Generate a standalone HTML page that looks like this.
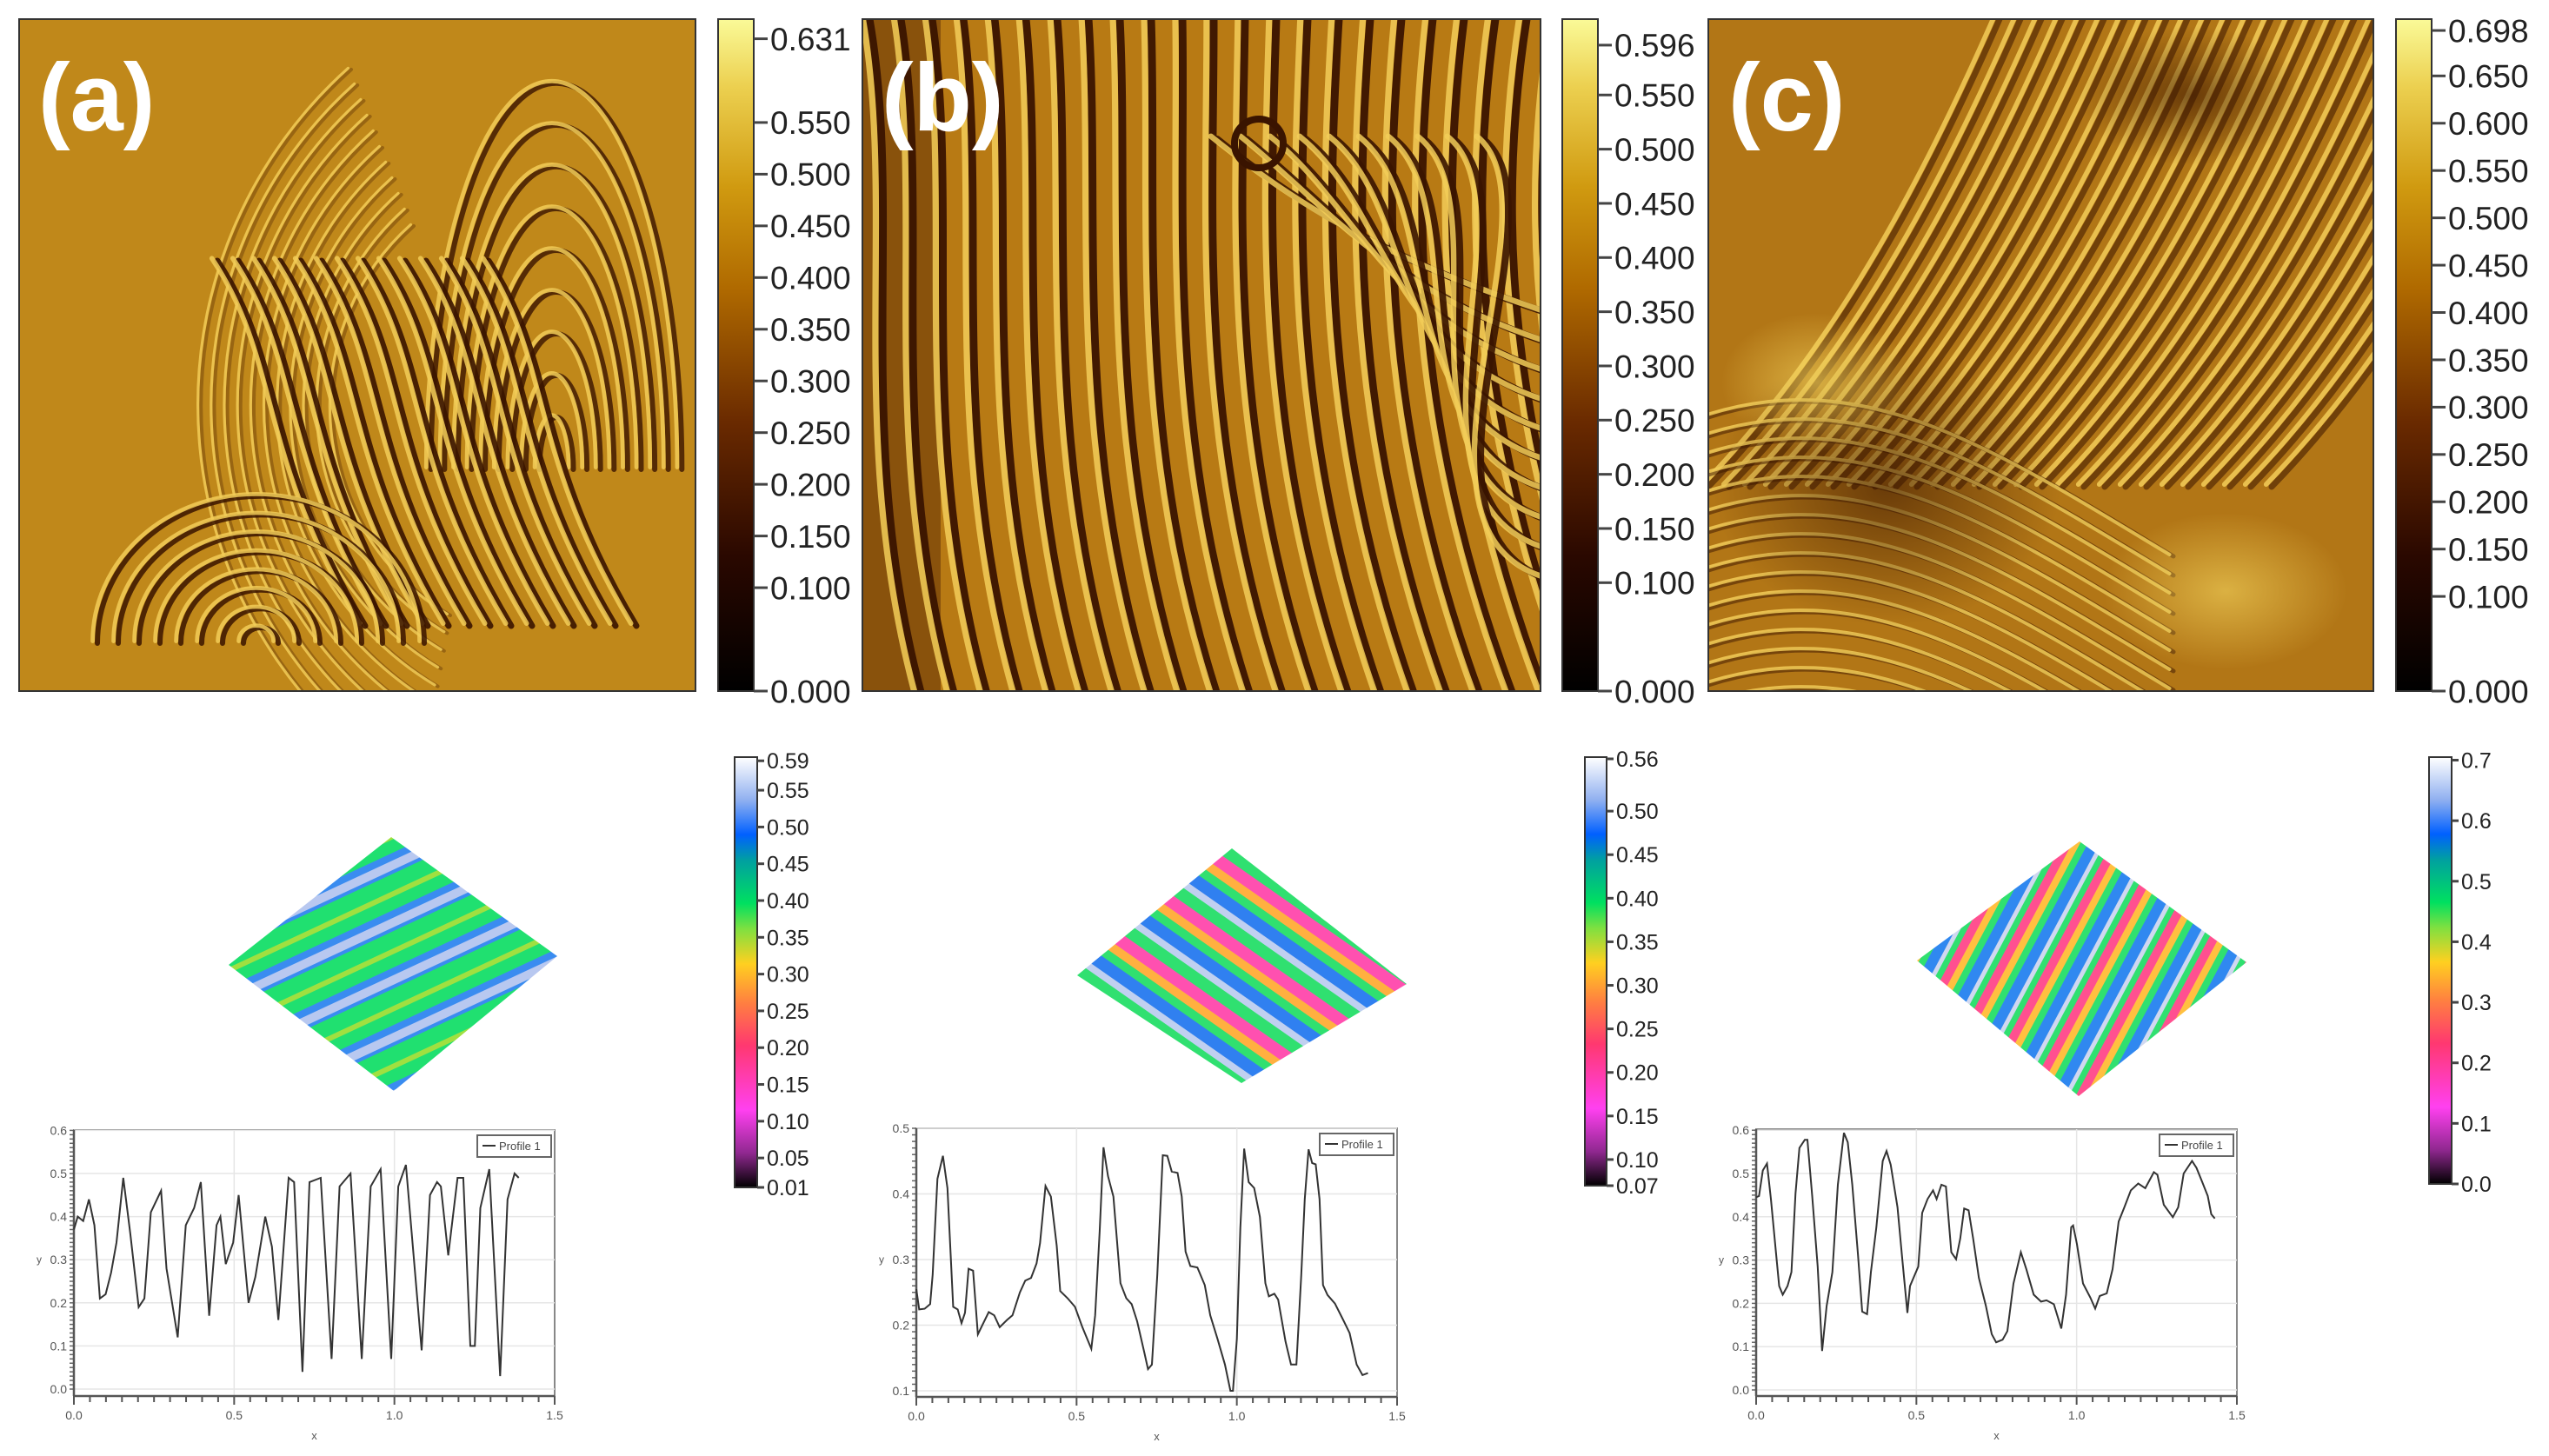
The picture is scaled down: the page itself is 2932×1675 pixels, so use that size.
<!DOCTYPE html>
<html><head><meta charset="utf-8"><style>
html,body{margin:0;padding:0;background:#fff;}
svg{display:block;font-family:"Liberation Sans",Arial,sans-serif;}
</style></head><body>
<svg id="s" width="2932" height="1675" viewBox="0 0 2932 1675" xmlns="http://www.w3.org/2000/svg">
<defs>
<linearGradient id="gold" x1="0" y1="1" x2="0" y2="0">
<stop offset="0" stop-color="#000"/><stop offset="0.2" stop-color="#2a0800"/><stop offset="0.4" stop-color="#6a2a00"/><stop offset="0.6" stop-color="#b06a00"/><stop offset="0.75" stop-color="#d09a10"/><stop offset="0.9" stop-color="#ecd050"/><stop offset="1" stop-color="#fafa98"/>
</linearGradient>
<linearGradient id="rain" x1="0" y1="1" x2="0" y2="0">
<stop offset="0" stop-color="#000"/><stop offset="0.08" stop-color="#902890"/><stop offset="0.18" stop-color="#ff40f0"/><stop offset="0.33" stop-color="#ff3870"/><stop offset="0.43" stop-color="#ff8040"/><stop offset="0.52" stop-color="#ffd020"/><stop offset="0.6" stop-color="#80e040"/><stop offset="0.66" stop-color="#00e060"/><stop offset="0.76" stop-color="#00a0a0"/><stop offset="0.82" stop-color="#0060ff"/><stop offset="0.9" stop-color="#90b0f0"/><stop offset="1" stop-color="#ffffff"/>
</linearGradient>
<pattern id="pa3" width="60" height="60" patternUnits="userSpaceOnUse" patternTransform="rotate(-25)">
<rect width="60" height="60" fill="#20e070"/><rect y="0" width="60" height="22" fill="#3a8cf0"/><rect y="8" width="60" height="10" fill="#b8c8f0"/><rect y="40" width="60" height="6" fill="#a0e040"/>
</pattern>
<pattern id="pb3" width="70" height="70" patternUnits="userSpaceOnUse" patternTransform="rotate(35)">
<rect width="70" height="70" fill="#30e070"/><rect y="0" width="70" height="14" fill="#ff50b0"/><rect y="14" width="70" height="10" fill="#ffb040"/><rect y="34" width="70" height="14" fill="#3080f0"/><rect y="48" width="70" height="8" fill="#c0d0f0"/>
</pattern>
<pattern id="pc3" width="50" height="50" patternUnits="userSpaceOnUse" patternTransform="rotate(-62)">
<rect width="50" height="50" fill="#30e070"/><rect y="0" width="50" height="10" fill="#ff5090"/><rect y="10" width="50" height="8" fill="#ffc040"/><rect y="26" width="50" height="12" fill="#3088f0"/><rect y="38" width="50" height="5" fill="#d0d8f0"/>
</pattern>
<radialGradient id="darkblob"><stop offset="0" stop-color="#3a1500" stop-opacity="0.6"/><stop offset="1" stop-color="#3a1500" stop-opacity="0"/></radialGradient>
<radialGradient id="lightblob"><stop offset="0" stop-color="#f6d860" stop-opacity="0.6"/><stop offset="1" stop-color="#f6d860" stop-opacity="0"/></radialGradient>
<clipPath id="ca"><rect x="22" y="22" width="778" height="773"/></clipPath>
<clipPath id="cb"><rect x="992" y="22" width="780" height="773"/></clipPath>
<clipPath id="cc"><rect x="1965" y="22" width="765" height="773"/></clipPath>
</defs>
<g id="texA" clip-path="url(#ca)">
<rect x="22" y="22" width="778" height="773" fill="#c0881a"/>
</g>
<g id="texB" clip-path="url(#cb)">
<rect x="992" y="22" width="780" height="773" fill="#b87a14"/>
</g>
<g id="texC" clip-path="url(#cc)">
<rect x="1965" y="22" width="765" height="773" fill="#b27616"/>
</g>
<rect x="22" y="22" width="778" height="773" fill="none" stroke="#333" stroke-width="2"/>
<rect x="992" y="22" width="780" height="773" fill="none" stroke="#333" stroke-width="2"/>
<rect x="1965" y="22" width="765" height="773" fill="none" stroke="#333" stroke-width="2"/>
<text x="44" y="150" font-size="110" font-weight="bold" fill="#fff">(a)</text>
<text x="1014" y="150" font-size="110" font-weight="bold" fill="#fff">(b)</text>
<text x="1988" y="150" font-size="110" font-weight="bold" fill="#fff">(c)</text>
<g id="cbars"></g>
<polygon points="263,1110 450,963 641,1100 453,1255" fill="url(#pa3)"/>
<polygon points="1239,1122 1417,976 1618,1132 1428,1246" fill="url(#pb3)"/>
<polygon points="2205,1105 2392,968 2584,1107 2391,1261" fill="url(#pc3)"/>
<g id="profiles"></g>
</svg>
<script>
// ---------- data ----------
const profAX=[0,0.012,0.029,0.047,0.064,0.081,0.099,0.116,0.133,0.154,0.176,0.202,0.220,0.240,0.272,0.289,0.324,0.349,0.375,0.396,0.422,0.445,0.457,0.474,0.497,0.514,0.545,0.566,0.597,0.618,0.638,0.670,0.687,0.713,0.735,0.770,0.804,0.829,0.863,0.898,0.926,0.957,0.990,1.012,1.036,1.085,1.111,1.133,1.145,1.168,1.197,1.215,1.237,1.251,1.268,1.296,1.330,1.353,1.375,1.388];
const profAY=[0.37,0.40,0.39,0.44,0.38,0.21,0.22,0.27,0.34,0.49,0.36,0.19,0.21,0.41,0.46,0.28,0.12,0.38,0.42,0.48,0.17,0.38,0.40,0.29,0.34,0.45,0.20,0.26,0.40,0.33,0.16,0.49,0.48,0.04,0.48,0.49,0.07,0.47,0.50,0.07,0.47,0.51,0.07,0.47,0.52,0.09,0.45,0.48,0.47,0.31,0.49,0.49,0.10,0.10,0.42,0.51,0.03,0.44,0.50,0.49];
const profBX=[0,0.009,0.026,0.043,0.051,0.066,0.083,0.097,0.115,0.129,0.141,0.152,0.163,0.177,0.192,0.203,0.226,0.243,0.260,0.283,0.300,0.323,0.340,0.358,0.375,0.386,0.403,0.420,0.438,0.449,0.472,0.495,0.518,0.546,0.558,0.572,0.584,0.598,0.615,0.637,0.655,0.672,0.689,0.712,0.723,0.735,0.752,0.769,0.783,0.797,0.815,0.828,0.840,0.855,0.877,0.900,0.917,0.940,0.963,0.980,0.988,1.000,1.011,1.023,1.037,1.054,1.072,1.089,1.100,1.117,1.129,1.152,1.169,1.186,1.201,1.212,1.224,1.235,1.246,1.258,1.269,1.283,1.306,1.334,1.352,1.374,1.392,1.409];
const profBY=[0.255,0.224,0.225,0.232,0.277,0.423,0.458,0.409,0.228,0.224,0.203,0.219,0.286,0.283,0.186,0.197,0.220,0.215,0.197,0.208,0.215,0.250,0.268,0.272,0.294,0.325,0.412,0.396,0.321,0.252,0.241,0.228,0.197,0.164,0.215,0.343,0.471,0.427,0.396,0.264,0.241,0.232,0.206,0.157,0.133,0.140,0.277,0.459,0.458,0.434,0.432,0.396,0.312,0.290,0.288,0.261,0.215,0.179,0.140,0.100,0.100,0.179,0.348,0.469,0.418,0.409,0.365,0.264,0.244,0.248,0.239,0.175,0.140,0.140,0.277,0.392,0.468,0.447,0.445,0.392,0.261,0.246,0.233,0.206,0.188,0.140,0.124,0.127];
const profCX=[0,0.009,0.021,0.034,0.046,0.061,0.072,0.083,0.098,0.110,0.123,0.135,0.152,0.160,0.175,0.192,0.206,0.220,0.238,0.255,0.274,0.286,0.300,0.318,0.331,0.346,0.358,0.375,0.395,0.407,0.420,0.441,0.455,0.472,0.480,0.495,0.506,0.518,0.535,0.552,0.563,0.578,0.592,0.609,0.624,0.637,0.649,0.663,0.677,0.695,0.717,0.735,0.749,0.769,0.784,0.803,0.826,0.843,0.866,0.889,0.906,0.929,0.952,0.967,0.983,0.989,1.001,1.020,1.043,1.058,1.072,1.094,1.112,1.131,1.149,1.169,1.192,1.214,1.241,1.252,1.272,1.300,1.317,1.334,1.360,1.374,1.392,1.409,1.420,1.431];
const profCY=[0.445,0.448,0.507,0.523,0.441,0.324,0.240,0.220,0.240,0.272,0.454,0.559,0.578,0.578,0.448,0.285,0.090,0.194,0.272,0.474,0.594,0.572,0.474,0.311,0.181,0.175,0.272,0.376,0.529,0.552,0.520,0.422,0.311,0.178,0.240,0.266,0.285,0.409,0.441,0.461,0.441,0.474,0.470,0.318,0.302,0.350,0.419,0.415,0.350,0.259,0.194,0.129,0.110,0.116,0.136,0.246,0.318,0.279,0.220,0.204,0.207,0.198,0.142,0.220,0.376,0.380,0.337,0.246,0.213,0.188,0.217,0.223,0.279,0.389,0.422,0.461,0.477,0.466,0.503,0.497,0.428,0.399,0.422,0.500,0.529,0.513,0.480,0.448,0.406,0.396];
const xTicks=[0.0,0.5,1.0,1.5];
const yTicksA=[0.0,0.1,0.2,0.3,0.4,0.5,0.6];
const yTicksB=[0.1,0.2,0.3,0.4,0.5];
const yTicksC=[0.0,0.1,0.2,0.3,0.4,0.5,0.6];
const cbTopA=["0.631","0.550","0.500","0.450","0.400","0.350","0.300","0.250","0.200","0.150","0.100","0.000"];
const cbTopAv=[0.631,0.55,0.5,0.45,0.4,0.35,0.3,0.25,0.2,0.15,0.1,0.0];
const cbTopB=["0.596","0.550","0.500","0.450","0.400","0.350","0.300","0.250","0.200","0.150","0.100","0.000"];
const cbTopBv=[0.596,0.55,0.5,0.45,0.4,0.35,0.3,0.25,0.2,0.15,0.1,0.0];
const cbTopC=["0.698","0.650","0.600","0.550","0.500","0.450","0.400","0.350","0.300","0.250","0.200","0.150","0.100","0.000"];
const cbTopCv=[0.698,0.65,0.6,0.55,0.5,0.45,0.4,0.35,0.3,0.25,0.2,0.15,0.1,0.0];
const cbBotA=["0.59","0.55","0.50","0.45","0.40","0.35","0.30","0.25","0.20","0.15","0.10","0.05","0.01"];
const cbBotAv=[0.59,0.55,0.5,0.45,0.4,0.35,0.3,0.25,0.2,0.15,0.1,0.05,0.01];
const cbBotB=["0.56","0.50","0.45","0.40","0.35","0.30","0.25","0.20","0.15","0.10","0.07"];
const cbBotBv=[0.56,0.5,0.45,0.4,0.35,0.3,0.25,0.2,0.15,0.1,0.07];
const cbBotC=["0.7","0.6","0.5","0.4","0.3","0.2","0.1","0.0"];
const cbBotCv=[0.7,0.6,0.5,0.4,0.3,0.2,0.1,0.0];

const NS="http://www.w3.org/2000/svg";
function mk(tag,attrs,parent){const e=document.createElementNS(NS,tag);for(const k in attrs)e.setAttribute(k,attrs[k]);parent.appendChild(e);return e;}

// ---------- textures (decorative) ----------
function stripe(g,d,w,dark){
  const a=mk('path',{d:d,fill:'none',stroke:'#3a1400','stroke-width':w,'stroke-opacity':dark,'stroke-linecap':'round'},g);
  
  const b=mk('path',{d:d,fill:'none',stroke:'#f2cc58','stroke-width':w*0.8,'stroke-opacity':0.85,transform:'translate(-'+(w*0.9)+',-'+(w*0.4)+')','stroke-linecap':'round'},g);
  
}
const tA=document.getElementById('texA');
for(let r=280;r<540;r+=24){stripe(tA,`M${560-r*0.3},${470-r*0.75} A${r},${r} 0 0 0 ${560-r*0.15},${470+r*0.85}`,4,0.3);}
for(let r=30;r<240;r+=24){stripe(tA,`M${640-r*0.65},${540} A${r*0.65},${r*2} 0 1 1 ${640+r*0.65},540`,6,0.8);}
for(let i=0;i<14;i++){const o=i*24;stripe(tA,`M${250+o},${300} C${330+o},${420} ${300+o},${520} ${420+o},${720}`,7,0.9);}
for(let r=20;r<190;r+=24){stripe(tA,`M${300-r},${740} A${r},${r*0.9} 0 1 1 ${300+r},740`,6,0.85);}
const tB=document.getElementById('texB');
mk('rect',{x:992,y:22,width:90,height:773,fill:'#5a2a04',opacity:0.5},tB);
for(let i=0;i<24;i++){const o=i*36;stripe(tB,`M${1000+o},22 C${1040+o*0.9},250 ${980+o},500 ${1060+o*1.05},800`,9,0.95);}
for(let i=0;i<10;i++){const o=i*34;stripe(tB,`M${1400+o},160 C${1500+o},240 ${1600},${300+o} ${1780},${360+o}`,8,0.9);}
mk('circle',{cx:1448,cy:165,r:28,fill:'none',stroke:'#3a1400','stroke-width':8},tB);
const tC=document.getElementById('texC');
for(let i=0;i<28;i++){const o=i*24;stripe(tC,`M${1965+o},560 C${2100+o},420 ${2200+o},250 ${2300+o},22`,7,0.55);}
for(let i=0;i<16;i++){const o=i*22;stripe(tC,`M1965,${480+o} C2150,${420+o} 2300,${520+o} 2500,${640+o}`,5,0.5);}
mk('ellipse',{cx:2170,cy:560,rx:200,ry:160,fill:'url(#darkblob)'},tC);
mk('ellipse',{cx:2520,cy:110,rx:130,ry:80,fill:'url(#darkblob)'},tC);
mk('ellipse',{cx:2560,cy:680,rx:140,ry:90,fill:'url(#lightblob)'},tC);
mk('ellipse',{cx:2090,cy:440,rx:110,ry:80,fill:'url(#lightblob)'},tC);

// ---------- colorbars ----------
const cb=document.getElementById('cbars');
function colorbar(x,w,yTop,yBot,vmax,vmin,vals,labels,grad,fs,tickLen,name){
  const g=mk('g',{},cb);
  const r=mk('rect',{x:x,y:yTop,width:w,height:yBot-yTop,fill:'url(#'+grad+')',stroke:'#333','stroke-width':2},g);
  
  const sc=v=>yBot-(v-vmin)/(vmax-vmin)*(yBot-yTop);
  vals.forEach((v,i)=>{const y=sc(v);
    const l=mk('line',{x1:x+w,x2:x+w+tickLen,y1:y,y2:y,stroke:'#444','stroke-width':3},g);
    
    const t=mk('text',{x:x+w+tickLen+3,y:y+fs*0.36,'font-size':fs,fill:'#222'},g);t.textContent=labels[i];
    });
  return sc;
}
colorbar(826,41,22,795,0.65,0.0,cbTopAv,cbTopA,'gold',37,16,'colorbar-a');
colorbar(1797,41,22,795,0.62,0.0,cbTopBv,cbTopB,'gold',37,16,'colorbar-b');
colorbar(2756,41,22,795,0.71,0.0,cbTopCv,cbTopC,'gold',37,16,'colorbar-c');
colorbar(845,26,871,1366,0.595,0.01,cbBotAv,cbBotA,'rain',25,8,'colorbar-3d-a');
colorbar(1823,25,871,1364,0.562,0.07,cbBotBv,cbBotB,'rain',25,8,'colorbar-3d-b');
colorbar(2794,26,871,1362,0.705,0.0,cbBotCv,cbBotC,'rain',25,8,'colorbar-3d-c');

// ---------- profiles ----------
const pg=document.getElementById('profiles');
function profile(P){
  const g=mk('g',{},pg);
  const sx=v=>P.x0+v/1.5*(P.x15-P.x0);
  const sy=v=>P.yA+(v-P.vA)/(P.vB-P.vA)*(P.yB-P.yA);
  const L=P.x0, R=P.x15, T=P.top, B=P.bot;
  const bg=mk('rect',{x:L,y:T,width:R-L,height:B-T,fill:'#fff',stroke:'#888','stroke-width':2},g);
  
  P.yt.forEach(v=>{const y=sy(v);
    const gl=mk('line',{x1:L,x2:R,y1:y,y2:y,stroke:'#e6e6e6','stroke-width':1.5},g);
    const t=mk('text',{x:L-8,y:y+5,'font-size':14,fill:'#555','text-anchor':'end'},g);t.textContent=v.toFixed(1);
    });
  for(let v=P.yt[0];v<=P.vmax+1e-9;v+=0.01){const y=sy(v);
    const m=mk('line',{x1:L-5,x2:L,y1:y,y2:y,stroke:'#666','stroke-width':1.5},g);}
  xTicks.forEach(v=>{const x=sx(v);
    if(v>0&&v<1.5){const gl=mk('line',{x1:x,x2:x,y1:T,y2:B,stroke:'#e6e6e6','stroke-width':1.5},g);}
    const t=mk('text',{x:x,y:B+27,'font-size':14,fill:'#555','text-anchor':'middle'},g);t.textContent=v.toFixed(1);
    });
  for(let i=0;i<=30;i++){const x=sx(i*0.05);
    const m=mk('line',{x1:x,x2:x,y1:B,y2:B+(i%10==0?10:7),stroke:'#555','stroke-width':2},g);}
  const ax=mk('line',{x1:L,x2:R,y1:B,y2:B,stroke:'#555','stroke-width':2.5},g);
  const ay=mk('line',{x1:L,x2:L,y1:T,y2:B,stroke:'#555','stroke-width':2.5},g);
  const xl=mk('text',{x:(L+R)/2,y:B+50,'font-size':13,fill:'#555','text-anchor':'middle'},g);xl.textContent='x';
  
  const yl=mk('text',{x:L-40,y:sy(0.3)+4,'font-size':12,fill:'#555','text-anchor':'middle'},g);yl.textContent='y';
  
  const d=P.X.map((v,i)=>(i?'L':'M')+sx(v).toFixed(1)+','+sy(P.Y[i]).toFixed(1)).join(' ');
  const ln=mk('path',{d:d,fill:'none',stroke:'#333','stroke-width':2},g);
  const lg=mk('g',{},g);
  mk('rect',{x:R-89,y:T+6,width:85,height:25,fill:'#fff',stroke:'#666','stroke-width':2},lg);
  const ll=mk('line',{x1:R-83,x2:R-68,y1:T+18,y2:T+18,stroke:'#333','stroke-width':2},lg);
  const lt=mk('text',{x:R-64,y:T+23,'font-size':13,fill:'#444'},lg);lt.textContent='Profile 1';
  
}
profile({name:'profile-chart-a',X:profAX,Y:profAY,x0:85,x15:638,yA:1598,vA:0,yB:1350,vB:0.5,top:1300,bot:1606,yt:yTicksA,vmax:0.6});
profile({name:'profile-chart-b',X:profBX,Y:profBY,x0:1054,x15:1607,yA:1600,vA:0.1,yB:1298,vB:0.5,top:1298,bot:1607,yt:yTicksB,vmax:0.5});
profile({name:'profile-chart-c',X:profCX,Y:profCY,x0:2020,x15:2573,yA:1599,vA:0,yB:1350,vB:0.5,top:1299,bot:1606,yt:yTicksC,vmax:0.6});
</script>
</body></html>
